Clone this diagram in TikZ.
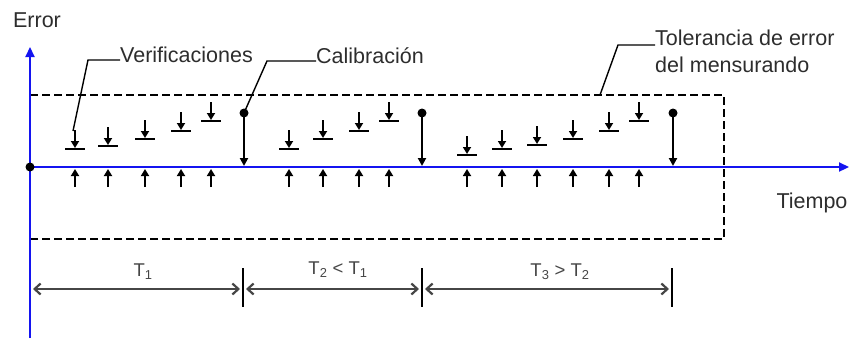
\documentclass[tikz,border=0pt]{standalone}
\usepackage{fontspec}
\setmainfont{Liberation Sans}
\usetikzlibrary{arrows.meta}
\definecolor{axisblue}{RGB}{20,20,240}
\definecolor{txtgray}{RGB}{45,45,45}
\definecolor{dimgray}{RGB}{70,70,70}
\begin{document}
\begin{tikzpicture}[x=1pt,y=-1pt,
  axisline/.style={draw=axisblue,line width=2.2pt,-{Triangle[length=10pt,width=9pt]}},
  tolbox/.style={draw=black,line width=1.5pt,dash pattern=on 8pt off 4pt},
  leader/.style={draw=black,line width=1.4pt},
  lbl/.style={font=\fontsize{21.5}{27}\selectfont,text=txtgray,inner sep=0pt},
  tlbl/.style={font=\fontsize{18.5}{22}\selectfont,text=dimgray,inner sep=0pt},
  verarrow/.style={draw=black,line width=1.7pt,-{Triangle[length=7pt,width=8pt]}},
  verbar/.style={draw=black,line width=2.2pt},
  calarrow/.style={draw=black,line width=2.2pt,-{Triangle[length=8pt,width=8pt]}},
  caldot/.style={circle,fill=black,inner sep=0pt,minimum size=9pt},
  dimarrow/.style={draw=dimgray,line width=2.2pt,{Straight Barb[length=6pt,width=11pt]}-{Straight Barb[length=6pt,width=11pt]}},
  tickmark/.style={draw=black,line width=1.8pt}]
\useasboundingbox (0,0) rectangle (851,338);

% tolerance box
\coordinate (tl) at (30,95);
\coordinate (tr) at (724,95);
\coordinate (br) at (724,239);
\coordinate (bl) at (30,239);
\draw[tolbox] (tl) -- (tr) -- (br) -- (bl);

% axes
\coordinate (yaxbot) at (30,338);
\coordinate (yaxtop) at (30,47);
\coordinate (origin) at (30,167);
\coordinate (xaxend) at (849,167);
\draw[axisline] (yaxbot) -- (yaxtop);
\draw[axisline] (origin) -- (xaxend);
\node[caldot,minimum size=9pt] (o) at (origin) {};

\node[lbl] (errlbl) at (37,20) {Error};
\node[lbl] (tiemlbl) at (812,203) {Tiempo};

% verification markers
\foreach \x/\y [count=\i] in {75/149,108/146,145/139,181/131,211/121,
    289/149,323/139,359/131,389/121,
    467/155,502/149,537/145,573/139,609/131,639/121}{
  \coordinate (vt\i) at (\x,\y-19);
  \coordinate (vb\i) at (\x,\y-1);
  \coordinate (bl\i) at (\x-10,\y);
  \coordinate (br\i) at (\x+10,\y);
  \coordinate (ut\i) at (\x,187);
  \coordinate (uh\i) at (\x,169);
  \draw[verarrow] (vt\i) -- (vb\i);
  \draw[verbar] (bl\i) -- (br\i);
  \draw[verarrow] (ut\i) -- (uh\i);
}

% calibrations
\foreach \x [count=\i] in {244,422,673}{
  \node[caldot] (cd\i) at (\x,113) {};
  \coordinate (ch\i) at (\x,166);
  \draw[calarrow] (cd\i.center) -- (ch\i);
}

% labels and leaders
\node[lbl,anchor=west] (verlbl) at (120,55) {Verificaciones};
\coordinate (vk) at (88,60);
\coordinate (vend) at (73,131);
\draw[leader] ([yshift=-5pt]verlbl.west) -- (vk) -- (vend);

\node[lbl,anchor=west] (callbl) at (316,56) {Calibración};
\coordinate (ck) at (267,61);
\draw[leader] ([yshift=-5pt]callbl.west) -- (ck) -- (cd1.center);

\node[lbl,anchor=west,align=left] (tollbl) at (655,51.5) {Tolerancia de error\\del mensurando};
\coordinate (tk) at (618,45);
\coordinate (tend) at (600,95);
\draw[leader] ([yshift=6.5pt]tollbl.west) -- (tk) -- (tend);

% period dimensions
\foreach \x [count=\i] in {243,422,672}{
  \coordinate (tkt\i) at (\x,268);
  \coordinate (tkb\i) at (\x,307);
  \draw[tickmark] (tkt\i) -- (tkb\i);
}
\coordinate (a1s) at (33,289);  \coordinate (a1e) at (240,289);
\coordinate (a2s) at (246,289); \coordinate (a2e) at (419,289);
\coordinate (a3s) at (425,289); \coordinate (a3e) at (669,289);
\draw[dimarrow] (a1s) -- (a1e);
\draw[dimarrow] (a2s) -- (a2e);
\draw[dimarrow] (a3s) -- (a3e);
\node[tlbl] (t1) at (143,272) {T\textsubscript{1}};
\node[tlbl] (t2) at (338,270) {T\textsubscript{2} < T\textsubscript{1}};
\node[tlbl] (t3) at (560,272) {T\textsubscript{3} > T\textsubscript{2}};
\end{tikzpicture}
\end{document}
